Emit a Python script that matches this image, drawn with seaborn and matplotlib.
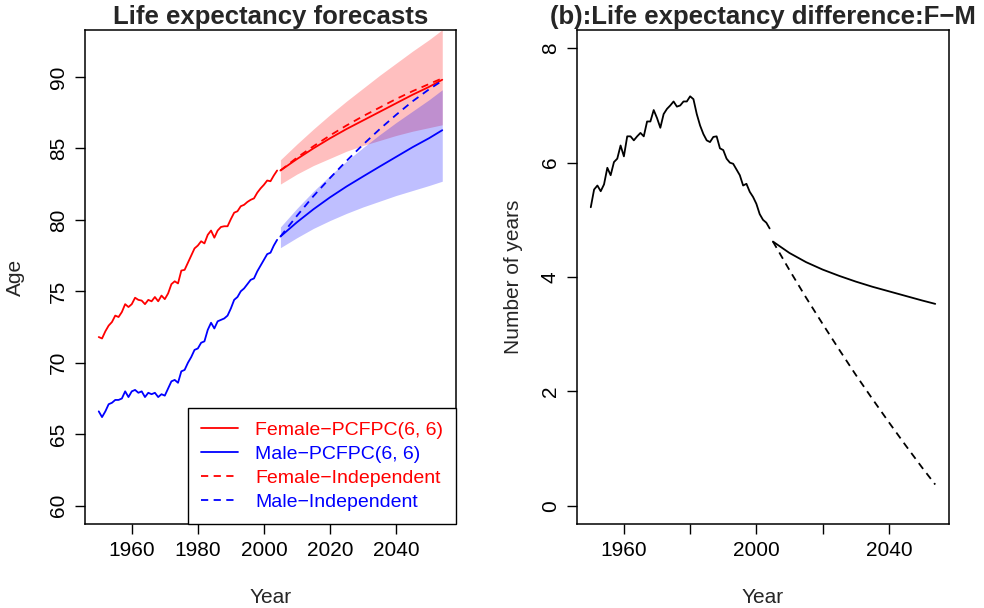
import numpy as np
import pandas as pd
import seaborn as sns
import matplotlib.pyplot as plt

# observed life expectancy, 1950-2004
years_obs = list(range(1950, 2005))
female_obs = [71.8, 71.7, 72.2, 72.6, 72.85, 73.3, 73.2, 73.55, 74.1, 73.9,
              74.1, 74.55, 74.4, 74.35, 74.1, 74.4, 74.3, 74.6, 74.3, 74.7,
              74.45, 74.85, 75.5, 75.7, 75.55, 76.45, 76.5, 77.0, 77.5, 78.0,
              78.2, 78.5, 78.35, 78.95, 79.25, 78.75, 79.25, 79.5, 79.55, 79.55,
              80.05, 80.5, 80.6, 80.95, 81.05, 81.25, 81.4, 81.5, 81.9, 82.2,
              82.45, 82.75, 82.7, 83.1, 83.45]
male_obs = [66.6, 66.2, 66.6, 67.1, 67.2, 67.4, 67.4, 67.5, 68.0, 67.6,
            68.0, 68.1, 67.9, 68.0, 67.6, 67.9, 67.8, 67.9, 67.6, 67.8,
            67.7, 68.2, 68.7, 68.8, 68.6, 69.4, 69.5, 70.0, 70.4, 70.9,
            71.0, 71.4, 71.5, 72.3, 72.8, 72.4, 72.9, 73.0, 73.1, 73.3,
            73.8, 74.4, 74.6, 75.0, 75.2, 75.5, 75.8, 75.9, 76.4, 76.8,
            77.2, 77.6, 77.7, 78.2, 78.6]
diff_obs = [5.22, 5.53, 5.60, 5.50, 5.62, 5.91, 5.78, 6.01, 6.07, 6.30,
            6.11, 6.46, 6.46, 6.39, 6.46, 6.52, 6.46, 6.72, 6.72, 6.92,
            6.78, 6.61, 6.85, 6.94, 7.00, 7.07, 6.98, 7.00, 7.07, 7.07,
            7.16, 7.11, 6.85, 6.65, 6.50, 6.39, 6.36, 6.45, 6.46, 6.25,
            6.22, 6.07, 6.00, 5.98, 5.88, 5.78, 5.60, 5.63, 5.49, 5.40,
            5.28, 5.10, 5.00, 4.95, 4.85]

# forecasts 2005-2054
years_fc = [2005, 2010, 2015, 2020, 2025, 2030, 2035, 2040, 2045, 2050, 2054]
female_pcfpc = [83.45, 84.25, 85.0, 85.7, 86.35, 86.95, 87.55, 88.15, 88.75, 89.3, 89.8]
male_pcfpc = [78.83, 79.83, 80.74, 81.57, 82.33, 83.03, 83.72, 84.4, 85.08, 85.71, 86.27]
female_ind = [83.45, 84.35, 85.15, 85.9, 86.6, 87.25, 87.85, 88.45, 89.0, 89.5, 89.9]
male_ind = [78.83, 80.28, 81.66, 82.92, 84.12, 85.26, 86.33, 87.34, 88.29, 89.13, 89.73]
female_lo = [82.5, 83.2, 83.8, 84.3, 84.8, 85.2, 85.55, 85.9, 86.2, 86.45, 86.65]
female_hi = [84.2, 85.3, 86.35, 87.35, 88.3, 89.2, 90.1, 90.95, 91.8, 92.6, 93.3]
male_lo = [78.05, 78.75, 79.4, 79.95, 80.45, 80.9, 81.3, 81.7, 82.05, 82.4, 82.7]
male_hi = [79.5, 80.8, 82.0, 83.1, 84.1, 85.05, 85.95, 86.8, 87.6, 88.4, 89.1]
diff_pcfpc = [4.62, 4.42, 4.26, 4.13, 4.02, 3.92, 3.83, 3.75, 3.67, 3.59, 3.53]
diff_ind = [4.62, 4.12, 3.64, 3.18, 2.73, 2.29, 1.87, 1.46, 1.06, 0.67, 0.37]

obs = pd.DataFrame({'Year': years_obs, 'Female': female_obs, 'Male': male_obs, 'Diff': diff_obs})
fc = pd.DataFrame({'Year': years_fc, 'F_pc': female_pcfpc, 'M_pc': male_pcfpc,
                   'F_ind': female_ind, 'M_ind': male_ind,
                   'D_pc': diff_pcfpc, 'D_ind': diff_ind})

sns.set_theme(style='ticks')
plt.rcParams['font.family'] = ['Liberation Sans', 'DejaVu Sans']
plt.rcParams['axes.linewidth'] = 1.1
plt.rcParams['axes.edgecolor'] = 'black'

RED = '#FF0000'
BLUE = '#0000FF'
dash = (0, (4, 3))
lw = 1.3

fig = plt.figure(figsize=(9.84, 6.08), dpi=100)
ax1 = fig.add_axes([85 / 984, 84 / 608, 371 / 984, 494 / 608])
ax2 = fig.add_axes([577 / 984, 84 / 608, 372 / 984, 494 / 608])

# left panel: forecasts
ax1.fill_between(years_fc, female_lo, female_hi, color=RED, alpha=0.25, lw=0)
ax1.fill_between(years_fc, male_lo, male_hi, color=BLUE, alpha=0.25, lw=0)
sns.lineplot(data=obs, x='Year', y='Female', ax=ax1, color=RED, lw=lw)
sns.lineplot(data=obs, x='Year', y='Male', ax=ax1, color=BLUE, lw=lw)
sns.lineplot(data=fc, x='Year', y='F_pc', ax=ax1, color=RED, lw=lw, label='Female\u2212PCFPC(6, 6)')
sns.lineplot(data=fc, x='Year', y='M_pc', ax=ax1, color=BLUE, lw=lw, label='Male\u2212PCFPC(6, 6)')
sns.lineplot(data=fc, x='Year', y='F_ind', ax=ax1, color=RED, lw=lw, linestyle=dash, label='Female\u2212Independent')
sns.lineplot(data=fc, x='Year', y='M_ind', ax=ax1, color=BLUE, lw=lw, linestyle=dash, label='Male\u2212Independent')

ax1.set_xlim(1945.84, 2058.16)
ax1.set_ylim(58.72, 93.28)
ax1.set_xticks([1960, 1980, 2000, 2020, 2040])
ax1.set_yticks([60, 65, 70, 75, 80, 85, 90])
ax1.set_title('Life expectancy forecasts', fontsize=18.5, fontweight='bold', pad=4)
ax1.set_xlabel('Year', fontsize=15, labelpad=20)
ax1.set_ylabel('Age', fontsize=15, labelpad=17)
handles, labels = ax1.get_legend_handles_labels()
leg = ax1.legend(handles, labels, loc='lower right', borderaxespad=0, fancybox=False,
                 edgecolor='black', framealpha=1, fontsize=14, handlelength=1.9,
                 handletextpad=0.85, labelspacing=0.33, borderpad=0.67, labelcolor='linecolor')
leg.get_frame().set_linewidth(1.0)

# right panel: difference
sns.lineplot(data=obs, x='Year', y='Diff', ax=ax2, color='black', lw=lw)
sns.lineplot(data=fc, x='Year', y='D_pc', ax=ax2, color='black', lw=lw)
sns.lineplot(data=fc, x='Year', y='D_ind', ax=ax2, color='black', lw=lw, linestyle=dash)
ax2.set_xlim(1945.84, 2058.16)
ax2.set_ylim(-0.32, 8.32)
ax2.set_xticks([1960, 1980, 2000, 2020, 2040])
ax2.set_xticklabels(['1960', '', '2000', '', '2040'])
ax2.set_yticks([0, 2, 4, 6, 8])
ax2.set_title('(b):Life expectancy difference:F\u2212M', fontsize=18.5, fontweight='bold', pad=4)
ax2.set_xlabel('Year', fontsize=15, labelpad=20)
ax2.set_ylabel('Number of years', fontsize=15, labelpad=13)

for ax in (ax1, ax2):
    ax.tick_params(direction='out', length=7.5, width=1.0, labelsize=15, pad=5, colors='black')
    for lab in ax.get_yticklabels():
        lab.set_rotation(90)
        lab.set_va('center')
    for s in ax.spines.values():
        s.set_visible(True)
        s.set_color('black')

fig.savefig('out.png', dpi=100)
